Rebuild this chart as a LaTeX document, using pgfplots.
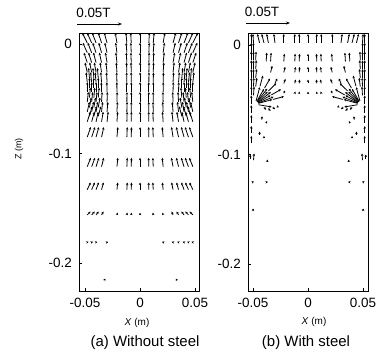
\documentclass[border=0pt]{standalone}
\usepackage{fontspec}
\setmainfont{Liberation Sans}
\usepackage{pgfplots}
\pgfplotsset{compat=1.18}
\usepackage{pgfplotstable}
\usetikzlibrary{arrows.meta}

\pgfplotstableread{
x y u v
-0.048 0.001 -0.0045 0.009
-0.044 0.001 -0.004 0.009
-0.040 0.001 -0.0035 0.009
-0.035 0.001 -0.003 0.009
-0.030 0.001 -0.0025 0.009
-0.021 0.001 -0.0015 0.009
-0.012 0.001 -0.0008 0.009
-0.008 0.001 -0.0005 0.009
0 0.001 0 0.009
0.008 0.001 0.0005 0.009
0.012 0.001 0.0008 0.009
0.021 0.001 0.0015 0.009
0.030 0.001 0.0025 0.009
0.035 0.001 0.003 0.009
0.040 0.001 0.0035 0.009
0.044 0.001 0.004 0.009
0.048 0.001 0.0045 0.009
-0.048 -0.008 -0.004 0.009
-0.044 -0.008 -0.0035 0.009
-0.040 -0.008 -0.003 0.009
-0.035 -0.008 -0.0025 0.009
-0.030 -0.008 -0.002 0.009
-0.021 -0.008 -0.0012 0.009
-0.012 -0.008 -0.0006 0.009
-0.008 -0.008 -0.0004 0.009
0 -0.008 0 0.009
0.008 -0.008 0.0004 0.009
0.012 -0.008 0.0006 0.009
0.021 -0.008 0.0012 0.009
0.030 -0.008 0.002 0.009
0.035 -0.008 0.0025 0.009
0.040 -0.008 0.003 0.009
0.044 -0.008 0.0035 0.009
0.048 -0.008 0.004 0.009
-0.048 -0.017 -0.003 0.009
-0.044 -0.017 -0.0028 0.009
-0.040 -0.017 -0.0024 0.009
-0.035 -0.017 -0.002 0.009
-0.030 -0.017 -0.0015 0.009
-0.021 -0.017 -0.001 0.009
-0.012 -0.017 -0.0005 0.009
-0.008 -0.017 -0.0003 0.009
0 -0.017 0 0.009
0.008 -0.017 0.0003 0.009
0.012 -0.017 0.0005 0.009
0.021 -0.017 0.001 0.009
0.030 -0.017 0.0015 0.009
0.035 -0.017 0.002 0.009
0.040 -0.017 0.0024 0.009
0.044 -0.017 0.0028 0.009
0.048 -0.017 0.003 0.009
-0.048 -0.026 -0.002 0.009
-0.044 -0.026 -0.0018 0.009
-0.040 -0.026 -0.0016 0.009
-0.035 -0.026 -0.0013 0.009
-0.030 -0.026 -0.001 0.009
-0.021 -0.026 -0.0006 0.009
-0.012 -0.026 -0.0003 0.009
-0.008 -0.026 -0.0002 0.009
0 -0.026 0 0.009
0.008 -0.026 0.0002 0.009
0.012 -0.026 0.0003 0.009
0.021 -0.026 0.0006 0.009
0.030 -0.026 0.001 0.009
0.035 -0.026 0.0013 0.009
0.040 -0.026 0.0016 0.009
0.044 -0.026 0.0018 0.009
0.048 -0.026 0.002 0.009
-0.048 -0.035 -0.001 0.009
-0.044 -0.035 -0.001 0.009
-0.040 -0.035 -0.0008 0.009
-0.035 -0.035 -0.0007 0.009
-0.030 -0.035 -0.0005 0.009
-0.021 -0.035 -0.0003 0.009
-0.012 -0.035 -0.0002 0.009
-0.008 -0.035 -0.0001 0.009
0 -0.035 0 0.009
0.008 -0.035 0.0001 0.009
0.012 -0.035 0.0002 0.009
0.021 -0.035 0.0003 0.009
0.030 -0.035 0.0005 0.009
0.035 -0.035 0.0007 0.009
0.040 -0.035 0.0008 0.009
0.044 -0.035 0.001 0.009
0.048 -0.035 0.001 0.009
-0.048 -0.044 0 0.009
-0.044 -0.044 0 0.009
-0.040 -0.044 0 0.009
-0.035 -0.044 -0.0002 0.009
-0.030 -0.044 -0.0002 0.009
-0.021 -0.044 -0.0001 0.009
-0.012 -0.044 0 0.009
-0.008 -0.044 0 0.009
0 -0.044 0 0.009
0.008 -0.044 0 0.009
0.012 -0.044 0 0.009
0.021 -0.044 0.0001 0.009
0.030 -0.044 0.0002 0.009
0.035 -0.044 0.0002 0.009
0.040 -0.044 0 0.009
0.044 -0.044 0 0.009
0.048 -0.044 0 0.009
-0.048 -0.053 0.001 0.009
-0.044 -0.053 0.0009 0.009
-0.040 -0.053 0.0008 0.009
-0.035 -0.053 0.0005 0.009
-0.030 -0.053 0.0003 0.009
-0.021 -0.053 0.0002 0.009
-0.012 -0.053 0.0001 0.009
-0.008 -0.053 0 0.009
0 -0.053 0 0.009
0.008 -0.053 0 0.009
0.012 -0.053 -0.0001 0.009
0.021 -0.053 -0.0002 0.009
0.030 -0.053 -0.0003 0.009
0.035 -0.053 -0.0005 0.009
0.040 -0.053 -0.0008 0.009
0.044 -0.053 -0.0009 0.009
0.048 -0.053 -0.001 0.009
-0.048 -0.062 0.002 0.009
-0.044 -0.062 0.0018 0.009
-0.040 -0.062 0.0015 0.009
-0.035 -0.062 0.001 0.009
-0.030 -0.062 0.0007 0.009
-0.021 -0.062 0.0004 0.009
-0.012 -0.062 0.0002 0.009
-0.008 -0.062 0.0001 0.009
0 -0.062 0 0.009
0.008 -0.062 -0.0001 0.009
0.012 -0.062 -0.0002 0.009
0.021 -0.062 -0.0004 0.009
0.030 -0.062 -0.0007 0.009
0.035 -0.062 -0.001 0.009
0.040 -0.062 -0.0015 0.009
0.044 -0.062 -0.0018 0.009
0.048 -0.062 -0.002 0.009
-0.048 -0.071 0.0028 0.009
-0.044 -0.071 0.0025 0.009
-0.040 -0.071 0.002 0.009
-0.035 -0.071 0.0015 0.009
-0.030 -0.071 0.001 0.009
-0.021 -0.071 0.0006 0.009
-0.012 -0.071 0.0003 0.009
-0.008 -0.071 0.0001 0.009
0 -0.071 0 0.009
0.008 -0.071 -0.0001 0.009
0.012 -0.071 -0.0003 0.009
0.021 -0.071 -0.0006 0.009
0.030 -0.071 -0.001 0.009
0.035 -0.071 -0.0015 0.009
0.040 -0.071 -0.002 0.009
0.044 -0.071 -0.0025 0.009
0.048 -0.071 -0.0028 0.009
-0.046 -0.031 -0.0008 0.009
-0.042 -0.031 -0.0008 0.009
-0.038 -0.031 -0.0008 0.009
0.038 -0.031 0.0008 0.009
0.042 -0.031 0.0008 0.009
0.046 -0.031 0.0008 0.009
-0.046 -0.040 0 0.009
-0.042 -0.040 0 0.009
-0.038 -0.040 0 0.009
0.038 -0.040 0 0.009
0.042 -0.040 0 0.009
0.046 -0.040 0 0.009
-0.046 -0.049 0.0008 0.009
-0.042 -0.049 0.0008 0.009
-0.038 -0.049 0.0008 0.009
0.038 -0.049 -0.0008 0.009
0.042 -0.049 -0.0008 0.009
0.046 -0.049 -0.0008 0.009
-0.046 -0.058 0.0016 0.009
-0.042 -0.058 0.0016 0.009
-0.038 -0.058 0.0016 0.009
0.038 -0.058 -0.0016 0.009
0.042 -0.058 -0.0016 0.009
0.046 -0.058 -0.0016 0.009
-0.046 -0.066 0.0024 0.009
-0.042 -0.066 0.0024 0.009
-0.038 -0.066 0.0024 0.009
0.038 -0.066 -0.0024 0.009
0.042 -0.066 -0.0024 0.009
0.046 -0.066 -0.0024 0.009
-0.048 -0.085 0.0032 0.009
-0.044 -0.085 0.003 0.009
-0.040 -0.085 0.0025 0.009
-0.035 -0.085 0.002 0.009
-0.021 -0.085 0.0008 0.009
-0.012 -0.085 0.0004 0.009
-0.008 -0.085 0.0002 0.009
0 -0.085 0 0.009
0.008 -0.085 -0.0002 0.009
0.012 -0.085 -0.0004 0.009
0.021 -0.085 -0.0008 0.009
0.030 -0.085 -0.0014 0.009
0.035 -0.085 -0.002 0.009
0.040 -0.085 -0.0025 0.009
0.044 -0.085 -0.003 0.009
0.048 -0.085 -0.0032 0.009
-0.048 -0.112 0.0032 0.008
-0.044 -0.112 0.003 0.008
-0.040 -0.112 0.0026 0.008
-0.035 -0.112 0.002 0.008
-0.021 -0.112 0.0008 0.008
-0.012 -0.112 0.0004 0.008
-0.008 -0.112 0.0002 0.008
0 -0.112 0 0.008
0.008 -0.112 -0.0002 0.008
0.012 -0.112 -0.0004 0.008
0.021 -0.112 -0.0008 0.008
0.030 -0.112 -0.0015 0.008
0.035 -0.112 -0.002 0.008
0.040 -0.112 -0.0026 0.008
0.044 -0.112 -0.003 0.008
0.048 -0.112 -0.0032 0.008
-0.048 -0.133 0.003 0.0065
-0.044 -0.133 0.0028 0.0065
-0.040 -0.133 0.0024 0.0065
-0.035 -0.133 0.0018 0.0065
-0.021 -0.133 0.0007 0.0065
-0.012 -0.133 0.0004 0.0065
-0.008 -0.133 0.0002 0.0065
0 -0.133 0 0.0065
0.008 -0.133 -0.0002 0.0065
0.012 -0.133 -0.0004 0.0065
0.021 -0.133 -0.0007 0.0065
0.030 -0.133 -0.0013 0.0065
0.035 -0.133 -0.0018 0.0065
0.040 -0.133 -0.0024 0.0065
0.044 -0.133 -0.0028 0.0065
0.048 -0.133 -0.003 0.0065
-0.048 -0.156 0.003 0.003
-0.044 -0.156 0.0028 0.003
-0.040 -0.156 0.0024 0.003
-0.035 -0.156 0.0018 0.003
-0.021 -0.156 0.0007 0.002
-0.012 -0.156 0.0004 0.002
-0.008 -0.156 0.0002 0.002
0 -0.156 0 0.002
0.012 -0.156 -0.0004 0.002
0.021 -0.156 -0.0007 0.002
0.030 -0.156 -0.0013 0.003
0.035 -0.156 -0.0018 0.003
0.040 -0.156 -0.0024 0.003
0.044 -0.156 -0.0028 0.003
0.048 -0.156 -0.003 0.003
-0.048 -0.181 0.0012 0.0004
-0.044 -0.181 0.0012 0.0004
-0.040 -0.181 0.0012 0.0004
-0.030 -0.181 0.0010 0.0004
0.021 -0.181 -0.0010 0.0004
0.030 -0.181 -0.0012 0.0004
0.035 -0.181 -0.0012 0.0004
0.040 -0.181 -0.0012 0.0004
0.044 -0.181 -0.0012 0.0004
0.048 -0.181 -0.0012 0.0004
-0.032 -0.215 0.0005 0.0008
0.033 -0.215 -0.0005 0.0008
}\leftdata

\pgfplotstableread{
x y u v
-0.0515 0.002 0 0.008
-0.0515 -0.006 0 0.008
-0.0515 -0.014 0 0.008
-0.0515 -0.022 0 0.008
-0.0515 -0.030 0 0.008
-0.0515 -0.038 0 0.008
-0.0515 -0.046 0 0.008
-0.0515 -0.054 0 0.008
-0.0515 -0.062 0 0.007
-0.0515 -0.071 0 0.007
-0.0515 -0.080 0 0.006
-0.0515 -0.089 0 0.006
-0.0495 0.002 -0.0005 0.008
-0.0495 -0.006 0 0.008
-0.0495 -0.014 0 0.008
-0.0495 -0.022 0 0.008
-0.0495 -0.030 0 0.008
-0.0495 -0.038 0.0003 0.008
-0.0495 -0.046 0.0005 0.008
-0.0475 -0.014 0.0003 0.008
-0.0475 -0.022 0.0005 0.008
-0.0475 -0.030 0.0008 0.008
-0.0475 -0.038 0.001 0.008
0.0515 0.002 0 0.008
0.0515 -0.006 0 0.008
0.0515 -0.014 0 0.008
0.0515 -0.022 0 0.008
0.0515 -0.030 0 0.008
0.0515 -0.038 0 0.008
0.0515 -0.046 0 0.008
0.0515 -0.054 0 0.008
0.0515 -0.062 0 0.007
0.0515 -0.071 0 0.007
0.0515 -0.080 0 0.006
0.0515 -0.089 0 0.006
0.0495 0.002 0.0005 0.008
0.0495 -0.006 0 0.008
0.0495 -0.014 0 0.008
0.0495 -0.022 0 0.008
0.0495 -0.030 0 0.008
0.0495 -0.038 -0.0003 0.008
0.0495 -0.046 -0.0005 0.008
0.0475 -0.014 -0.0003 0.008
0.0475 -0.022 -0.0005 0.008
0.0475 -0.030 -0.0008 0.008
0.0475 -0.038 -0.001 0.008
-0.044 0.002 -0.002 0.008
-0.040 0.002 -0.002 0.008
-0.036 0.002 -0.0015 0.008
-0.030 0.002 -0.001 0.008
-0.022 0.002 0 0.008
-0.012 0.002 0 0.008
-0.008 0.002 0 0.008
0 0.002 0 0.008
0.008 0.002 0 0.008
0.012 0.002 0 0.008
0.022 0.002 0 0.008
0.030 0.002 0.001 0.008
0.036 0.002 0.0015 0.008
0.040 0.002 0.002 0.008
0.044 0.002 0.002 0.008
-0.038 -0.015 0.0005 0.008
-0.034 -0.015 0.0005 0.008
-0.022 -0.015 0.0005 0.007
-0.012 -0.015 0.0003 0.007
-0.008 -0.015 0.0003 0.007
0 -0.015 0 0.007
0.008 -0.015 -0.0003 0.007
0.012 -0.015 -0.0003 0.007
0.022 -0.015 -0.0005 0.007
0.034 -0.015 -0.0005 0.008
0.038 -0.015 -0.0005 0.008
-0.034 -0.025 0.0015 0.006
-0.022 -0.025 0.0012 0.005
-0.012 -0.025 0.0006 0.005
-0.008 -0.025 0.0004 0.005
0 -0.025 0 0.005
0.008 -0.025 -0.0004 0.005
0.012 -0.025 -0.0006 0.005
0.022 -0.025 -0.0012 0.005
0.034 -0.025 -0.0015 0.006
-0.030 -0.035 0.002 0.0045
-0.022 -0.035 0.0015 0.004
-0.012 -0.035 0.0008 0.0035
-0.008 -0.035 0.0005 0.0035
0 -0.035 0 0.0035
0.008 -0.035 -0.0005 0.0035
0.012 -0.035 -0.0008 0.0035
0.022 -0.035 -0.0015 0.004
0.030 -0.035 -0.002 0.0045
-0.022 -0.044 0.0012 0.0025
-0.012 -0.044 0.0005 0.0015
-0.008 -0.044 0.0003 0.0015
0 -0.044 0 0.0015
0.008 -0.044 -0.0003 0.0015
0.012 -0.044 -0.0005 0.0015
0.022 -0.044 -0.0012 0.0025
-0.0451 -0.0532 0.0126 0.0034
-0.0316 -0.0496 0.0097 0.0026
-0.0454 -0.0525 0.0113 0.0065
-0.0333 -0.0455 0.0087 0.0050
-0.0459 -0.0519 0.0092 0.0092
-0.0360 -0.0420 0.0071 0.0071
-0.0465 -0.0514 0.0065 0.0113
-0.0395 -0.0393 0.0050 0.0087
-0.0472 -0.0511 0.0034 0.0126
-0.0436 -0.0376 0.0026 0.0097
-0.0450 -0.0545 0.0120 -0.0020
-0.0452 -0.0529 0.0139 0.0056
-0.0456 -0.0522 0.0118 0.0092
-0.0462 -0.0516 0.0092 0.0118
0.0451 -0.0532 -0.0126 0.0034
0.0316 -0.0496 -0.0097 0.0026
0.0454 -0.0525 -0.0113 0.0065
0.0333 -0.0455 -0.0087 0.0050
0.0459 -0.0519 -0.0092 0.0092
0.0360 -0.0420 -0.0071 0.0071
0.0465 -0.0514 -0.0065 0.0113
0.0395 -0.0393 -0.0050 0.0087
0.0472 -0.0511 -0.0034 0.0126
0.0436 -0.0376 -0.0026 0.0097
0.0450 -0.0545 -0.0120 -0.0020
0.0452 -0.0529 -0.0139 0.0056
0.0456 -0.0522 -0.0118 0.0092
0.0462 -0.0516 -0.0092 0.0118
-0.040 -0.057 0.002 -0.002
-0.036 -0.058 0.002 -0.002
-0.032 -0.057 0.002 -0.0015
-0.028 -0.056 0.0015 -0.001
0.040 -0.057 -0.002 -0.002
0.036 -0.058 -0.002 -0.002
0.032 -0.057 -0.002 -0.0015
0.028 -0.056 -0.0015 -0.001
-0.042 -0.068 0.0003 0.003
-0.038 -0.071 0.0008 0.0015
-0.044 -0.082 0 0.003
-0.040 -0.084 0 0.001
-0.0495 -0.105 0.0005 0.006
-0.0525 -0.104 0 0.004
-0.037 -0.106 0 0.0015
-0.050 -0.125 0.001 0.0003
-0.037 -0.125 0.0005 0.0001
-0.050 -0.150 0 0.0007
0.042 -0.068 -0.0003 0.003
0.038 -0.071 -0.0008 0.0015
0.044 -0.082 0 0.003
0.040 -0.084 0 0.001
0.0495 -0.105 -0.0005 0.006
0.0525 -0.104 0 0.004
0.037 -0.106 0 0.0015
0.050 -0.125 -0.001 0.0003
0.037 -0.125 -0.0005 0.0001
0.050 -0.150 0 0.0007
}\rightdata

\pgfplotsset{
  myax/.style={
    scale only axis, width=120bp, height=258bp,
    axis line style={line width=0.9bp},
    every tick/.style={black, line width=0.6bp},
    tick align=inside, major tick length=3bp,
    scaled ticks=false,
    xtick={-0.05,0,0.05}, xticklabels={-0.05,0,0.05},
    ytick={-0.2,-0.1,0}, yticklabels={-0.2,-0.1,0},
    xtick pos=bottom, ytick pos=left,
    ticklabel style={font=\fontsize{13.5}{15}\selectfont},
    xticklabel style={inner sep=0pt, anchor=north, yshift=-7bp},
    yticklabel style={inner sep=0pt, anchor=east, xshift=-7bp},
  },
  myq/.style={black, line width=0.8bp, -{Stealth[length=2.4bp,width=2.4bp]},
    quiver={u=\thisrow{u}, v=\thisrow{v}}},
}

\begin{document}
\begin{tikzpicture}
\useasboundingbox (0bp,0bp) rectangle (389bp,357bp);
\begin{axis}[myax, at={(79bp,66bp)}, anchor=south west,
  xmin=-0.0555, xmax=0.0536, ymin=-0.2255, ymax=0.0100]
\addplot[myq] table[x=x,y=y] {\leftdata};
\end{axis}
\begin{axis}[myax, at={(248bp,66bp)}, anchor=south west,
  xmin=-0.0545, xmax=0.0545, ymin=-0.2245, ymax=0.0110]
\addplot[myq] table[x=x,y=y] {\rightdata};
\end{axis}
% scale arrows 0.05 T
\draw[line width=0.7bp, -{Stealth[length=4bp,width=3bp]}] (77bp,333bp) -- (122bp,333bp);
\node[font=\fontsize{13.5}{15}\selectfont] at (93.5bp,344bp) {0.05T};
\draw[line width=0.7bp, -{Stealth[length=4bp,width=3bp]}] (246bp,334bp) -- (290bp,334bp);
\node[font=\fontsize{13.5}{15}\selectfont] at (262bp,345bp) {0.05T};
% axis labels
\node[rotate=90, font=\fontsize{9}{11}\selectfont] at (19bp,208bp) {Z (m)};
\node[font=\fontsize{10}{12}\selectfont] at (137bp,34bp) {\textit{X} (m)};
\node[font=\fontsize{10}{12}\selectfont] at (314bp,35bp) {\textit{X} (m)};
% captions
\node[font=\fontsize{15}{18}\selectfont] at (145bp,14bp) {(a) Without steel};
\node[font=\fontsize{15}{18}\selectfont] at (306bp,14bp) {(b) With steel};
\end{tikzpicture}
\end{document}
